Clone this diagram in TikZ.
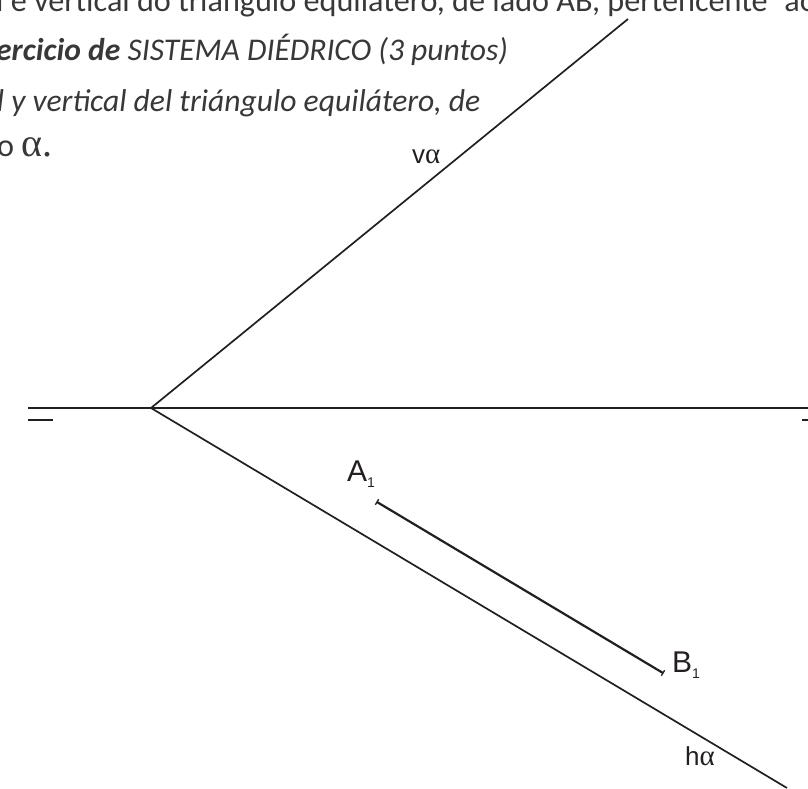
\documentclass[tikz,border=0pt]{standalone}
\usepackage{fontspec}
\setmainfont{Carlito}
\newfontfamily\labfont{Liberation Sans}
\newfontfamily\greekfont{Liberation Serif}
\definecolor{ink}{HTML}{231F20}
\definecolor{txt}{HTML}{383838}
\tikzset{
  headtext/.style={anchor=base west,inner sep=0pt,text=txt,font=\fontsize{32.2}{40}\selectfont},
  headital/.style={anchor=base west,inner sep=0pt,text=txt,font=\fontsize{31.6}{40}\selectfont},
  lab/.style={anchor=base west,inner sep=0pt,text=ink,font=\labfont\fontsize{30}{36}\selectfont},
  smalllab/.style={anchor=base west,inner sep=0pt,text=ink,font=\labfont\fontsize{26}{30}\selectfont},
  thin line/.style={draw=ink,line width=1.7pt},
  main line/.style={draw=ink,line width=2pt},
  seg line/.style={draw=ink,line width=2.2pt},
  tick line/.style={draw=ink,line width=1.3pt}
}
\newcommand{\sbs}[1]{\raisebox{-6pt}{\fontsize{14}{15}\selectfont #1}}
\begin{document}
\begin{tikzpicture}[x=1pt,y=-1pt]
\useasboundingbox (0,0) rectangle (808,789);
\clip (0,0) rectangle (808,789);
\node[headtext] (l1) at (-4,12) {l e vertical do triángulo equilátero, de lado AB, pertencente\ \ \kern2pt ao};
\node[headital] (l2) at (-4,61) {\textbf{\textit{ercicio de}} \textit{SISTEMA DIÉDRICO (3 puntos)}};
\node[headital] (l3) at (-3.3,112) {\textit{l y vertical del triángulo equilátero, de}};
\node[headtext] (l4) at (-3,156) {o {\greekfont\fontsize{40}{40}\selectfont α.}};
\coordinate (O) at (151,408);
\coordinate (V) at (628,19);
\coordinate (H) at (787,788);
\coordinate (L) at (28,408);
\coordinate (R) at (808,408);
\coordinate (S1) at (28,420);
\coordinate (S2) at (53,420);
\coordinate (S3) at (802,420);
\coordinate (S4) at (808,420);
\coordinate (A) at (377,502);
\coordinate (B) at (663,673);
\draw[thin line] (O) -- (V);
\draw[thin line] (O) -- (H);
\draw[main line] (L) -- (R);
\draw[main line] (S1) -- (S2);
\draw[main line] (S3) -- (S4);
\draw[seg line] (A) -- (B);
\draw[tick line] (A) ++(1.6,-2.7) -- ++(-3.2,5.4);
\draw[tick line] (B) ++(1.6,-2.7) -- ++(-3.2,5.4);
\node[lab] (a1) at (347,481.5) {A\sbs{1}};
\node[lab] (b1) at (672,672) {B\sbs{1}};
\node[smalllab] (va) at (412,163) {v{\greekfont\fontsize{29}{30}\selectfont α}};
\node[smalllab] (ha) at (685,765) {h{\greekfont\fontsize{29}{30}\selectfont α}};
\end{tikzpicture}
\end{document}
